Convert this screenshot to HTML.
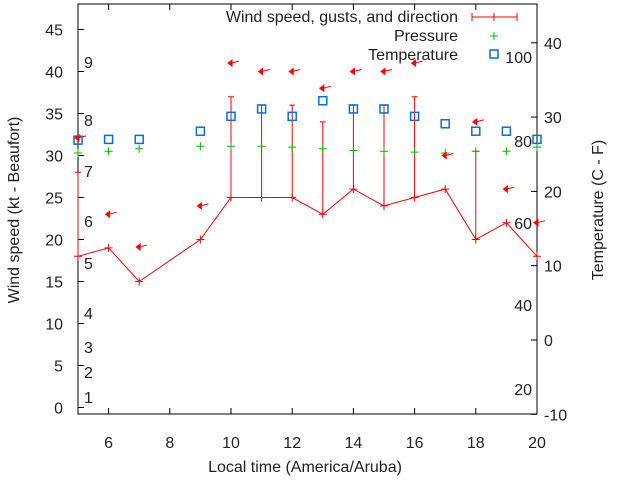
<!DOCTYPE html>
<html><head><meta charset="utf-8"><style>
body{margin:0;background:#fff}
svg{font-family:"Liberation Sans",sans-serif;font-size:16px;fill:#222}
</style></head><body>
<svg id="c" width="640" height="480">
<rect x="78" y="4" width="459" height="410" fill="none" stroke="#000" stroke-width="1"/>
<g id="g"></g>
<text x="19" y="210" transform="rotate(-90 19 210)" text-anchor="middle">Wind speed (kt - Beaufort)</text>
<text x="603" y="210" transform="rotate(-90 603 210)" text-anchor="middle">Temperature (C - F)</text>
<text x="305" y="472" text-anchor="middle">Local time (America/Aruba)</text>
<g>
<text x="458" y="22" text-anchor="end">Wind speed, gusts, and direction</text>
<line x1="472" y1="17" x2="517" y2="17" stroke="#f00"/><line x1="472" y1="13" x2="472" y2="21" stroke="#f00"/><line x1="517" y1="13" x2="517" y2="21" stroke="#f00"/><line x1="494" y1="13" x2="494" y2="21" stroke="#f00"/>
<text x="458" y="41" text-anchor="end">Pressure</text>
<path d="M490 36h8M494 32v8" stroke="#0b0"/>
<text x="458" y="60" text-anchor="end">Temperature</text>
<rect x="490" y="50" width="8" height="8" fill="none" stroke="#0070e0" stroke-width="1.5"/>
</g>
</svg>
<script>
const hours=[5,6,7,9,10,11,12,13,14,15,16,17,18,19,20];
const wind=[18,19,15,20,25,25,25,23,26,24,25,26,20,22,18];
const gusts=[28,null,null,null,37,36,36,34,36,36,37,null,30.5,null,null];
const pressure=[30.3,30.5,30.8,31.1,31.1,31.1,31,30.8,30.6,30.5,30.4,30.3,30.5,30.5,31];
const temp=[26.9,27,27,28.1,30.1,31.1,30.1,32.2,31.1,31.1,30.1,29.1,28.1,28.1,27];
const dirPos=[32.1,23,19.1,24,41,40,40,38,40,40,41,30,34,26,22];
const xTicks=[6,8,10,12,14,16,18,20];
const yTicks=[0,5,10,15,20,25,30,35,40,45];
const y2Ticks=[-10,0,10,20,30,40];
const beaufort=[[1,397],[2,372],[3,347],[4,313],[5,263],[6,221],[7,171],[8,120],[9,62]];
const fahr=[[100,57],[80,141],[60,223],[40,305],[20,389]];
const X=v=>78+(v-5)*30.6, Y=v=>407.5-v*8.4, Y2=v=>340-v*7.43;
const g=document.getElementById('g'),NS='http://www.w3.org/2000/svg';
function mk(t,a,txt){const e=document.createElementNS(NS,t);for(const k in a)e.setAttribute(k,a[k]);if(txt!=null)e.textContent=txt;g.appendChild(e);return e;}
xTicks.forEach(v=>{mk('line',{x1:X(v),x2:X(v),y1:414,y2:408,stroke:'#000'});mk('line',{x1:X(v),x2:X(v),y1:4,y2:10,stroke:'#000'});
const t=mk('text',{x:X(v),y:448,'text-anchor':'middle'},v);});
yTicks.forEach(v=>{mk('line',{x1:78,x2:84,y1:Y(v),y2:Y(v),stroke:'#000'});
const t=mk('text',{x:63,y:Y(v)+6,'text-anchor':'end'},v);});
y2Ticks.forEach(v=>{mk('line',{x1:531,x2:537,y1:Y2(v),y2:Y2(v),stroke:'#000'});
const t=mk('text',{x:544,y:Y2(v)+6},v);});
beaufort.forEach(b=>{const t=mk('text',{x:84,y:b[1]+6},b[0]);});
fahr.forEach(b=>{const t=mk('text',{x:532,y:b[1]+6,'text-anchor':'end'},b[0]);});
hours.forEach((h,i)=>{if(gusts[i]!=null){const l=mk('path',{d:`M${X(h)} ${Y(wind[i])}V${Y(gusts[i])}M${X(h)-3} ${Y(gusts[i])}h6`,stroke:'#f00',fill:'none'});
}});
const wl=mk('polyline',{points:hours.map((h,i)=>X(h)+','+Y(wind[i])).join(' '),fill:'none',stroke:'#f00'});

hours.forEach((h,i)=>{const p=mk('path',{d:`M${X(h)-4} ${Y(wind[i])}h8M${X(h)} ${Y(wind[i])-4}v8`,stroke:'#f00'});

const q=mk('path',{d:`M${X(h)-4} ${Y(pressure[i])}h8M${X(h)} ${Y(pressure[i])-4}v8`,stroke:'#0b0'});

const s=mk('rect',{x:X(h)-4,y:Y2(temp[i])-4,width:8,height:8,fill:'none',stroke:'#0070e0','stroke-width':1.5});

const ax=X(h),ay=Y(dirPos[i]);
const a=mk('path',{d:`M${ax-3} ${ay}l4 -3v6z`,fill:'#f00',stroke:'#f00','stroke-width':1});

const tl=mk('line',{x1:ax,y1:ay,x2:ax+8,y2:ay-2,stroke:'#f00','stroke-width':1});
});
</script>
</body></html>
